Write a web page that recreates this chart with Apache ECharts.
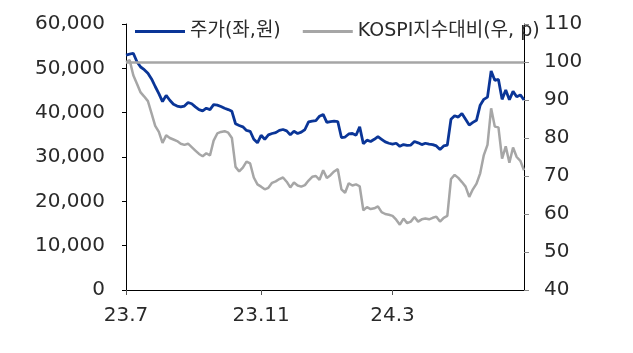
<!DOCTYPE html>
<html>
<head>
<meta charset="utf-8">
<script src="https://cdn.jsdelivr.net/npm/echarts@6/dist/echarts.min.js"></script>
<style>
  html, body { margin: 0; padding: 0; background: #fff; }
  #chart { width: 633px; height: 353px; }
</style>
</head>
<body>
<div id="chart"></div>
<script>
// 주가 (left axis, 원)
const price = [
  53000, 53200, 53400, 51500, 50300, 49700, 48900, 47600, 45900, 44300,
  42500, 43900, 42800, 41900, 41500, 41300, 41500, 42300, 42000, 41300,
  40700, 40400, 41000, 40700, 41800, 41700, 41400, 41000, 40700, 40300,
  37500, 37100, 36800, 36000, 35800, 34000, 33200, 34900, 34000, 35000,
  35300, 35500, 36000, 36200, 35900, 35000, 35800, 35300, 35600, 36200,
  37900, 38100, 38200, 39200, 39600, 37800, 38000, 38100, 38000, 34400,
  34500, 35200, 35300, 34900, 36800, 33000, 33800, 33500, 34000, 34600,
  34000, 33400, 33100, 32900, 33100, 32400, 32800, 32600, 32700, 33500,
  33200, 32800, 33100, 32900, 32800, 32500, 31700, 32500, 32700, 38500,
  39300, 39000, 39800, 38500, 37200, 37800, 38300, 41700, 43000, 43500,
  49400, 47300, 47500, 43000, 45100, 42900, 44800, 43600, 44000, 42900
];
// KOSPI 대비 (right axis, p)
const relative = [
  100.0, 100.5, 96.5, 94.3, 92.0, 90.9, 89.7, 86.5, 83.2, 81.6,
  78.7, 80.7, 80.0, 79.6, 79.2, 78.5, 78.2, 78.5, 77.6, 76.7,
  75.8, 75.2, 76.0, 75.4, 79.3, 81.2, 81.6, 81.8, 81.4, 80.0,
  72.4, 71.2, 72.2, 73.8, 73.3, 69.6, 67.8, 67.2, 66.5, 66.9,
  68.2, 68.6, 69.2, 69.6, 68.5, 67.0, 68.3, 67.5, 67.2, 67.6,
  68.8, 69.8, 70.0, 69.0, 71.5, 69.5, 70.2, 71.2, 71.8, 66.5,
  65.6, 68.1, 67.5, 67.8, 67.3, 61.0, 61.8, 61.3, 61.5, 62.0,
  60.5, 60.0, 59.8, 59.5, 58.5, 57.2, 58.8, 57.6, 58.0, 59.2,
  58.0, 58.6, 58.8, 58.6, 59.0, 59.3, 58.0, 59.0, 59.5, 69.2,
  70.3, 69.5, 68.4, 67.2, 64.5, 66.5, 68.0, 70.7, 75.5, 78.2,
  87.8, 83.0, 82.8, 74.6, 77.8, 73.5, 77.5, 75.0, 74.0, 71.5
];
// x tick labels: position index -> label
const tickIndex = [0, 37, 73];
const tickLabels = ['23.7', '23.11', '24.3'];
const baseLine = 100;

const categories = price.map((_, i) => {
  const k = tickIndex.indexOf(i);
  return k >= 0 ? tickLabels[k] : '';
});
const showTick = (i) => tickIndex.indexOf(i) >= 0;

const FONT = "'DejaVu Sans', 'Noto Sans CJK KR', sans-serif";
const chart = echarts.init(document.getElementById('chart'), null, { renderer: 'canvas' });

chart.setOption({
  animation: false,
  backgroundColor: '#fff',
  textStyle: { fontFamily: FONT },
  grid: { left: 126, right: 109, top: 24, bottom: 63 },
  legend: {
    top: 17, left: 130,
    itemWidth: 50, itemHeight: 3, itemGap: 22,
    icon: 'rect',
    textStyle: { fontSize: 19, color: '#2a2a2a', fontFamily: FONT },
    data: ['주가(좌,원)', 'KOSPI지수대비(우, p)']
  },
  xAxis: {
    type: 'category',
    data: categories,
    boundaryGap: false,
    axisLine: { lineStyle: { color: '#000', width: 1 } },
    axisTick: { interval: showTick, length: 5, lineStyle: { color: '#555' } },
    axisLabel: { interval: showTick, margin: 16, fontSize: 20, color: '#2a2a2a' },
    splitLine: { show: false }
  },
  yAxis: [{
    type: 'value', min: 0, max: 60000, interval: 10000,
    axisLine: { show: true, lineStyle: { color: '#000' } },
    axisTick: { show: true, length: 4, lineStyle: { color: '#000' } },
    axisLabel: {
      fontSize: 20, color: '#2a2a2a', margin: 21,
      formatter: v => v.toLocaleString('en-US')
    },
    splitLine: { show: false }
  }, {
    type: 'value', min: 40, max: 110, interval: 10, position: 'right',
    axisLine: { show: true, lineStyle: { color: '#000' } },
    axisTick: { show: true, length: 5, lineStyle: { color: '#888' } },
    axisLabel: { fontSize: 20, color: '#2a2a2a', margin: 20 },
    splitLine: { show: false }
  }],
  series: [{
    name: 'KOSPI지수대비(우, p)',
    type: 'line', yAxisIndex: 1, data: relative,
    symbol: 'none', color: '#a6a6a6',
    lineStyle: { width: 2.5, color: '#a6a6a6' },
    markLine: {
      silent: true, symbol: 'none', label: { show: false },
      lineStyle: { type: 'solid', color: '#a6a6a6', width: 2.5 },
      data: [{ yAxis: baseLine }]
    },
    z: 2
  }, {
    name: '주가(좌,원)',
    type: 'line', yAxisIndex: 0, data: price,
    symbol: 'none', color: '#0a3597',
    lineStyle: { width: 2.8, color: '#0a3597' },
    z: 3
  }]
});
</script>
</body>
</html>
